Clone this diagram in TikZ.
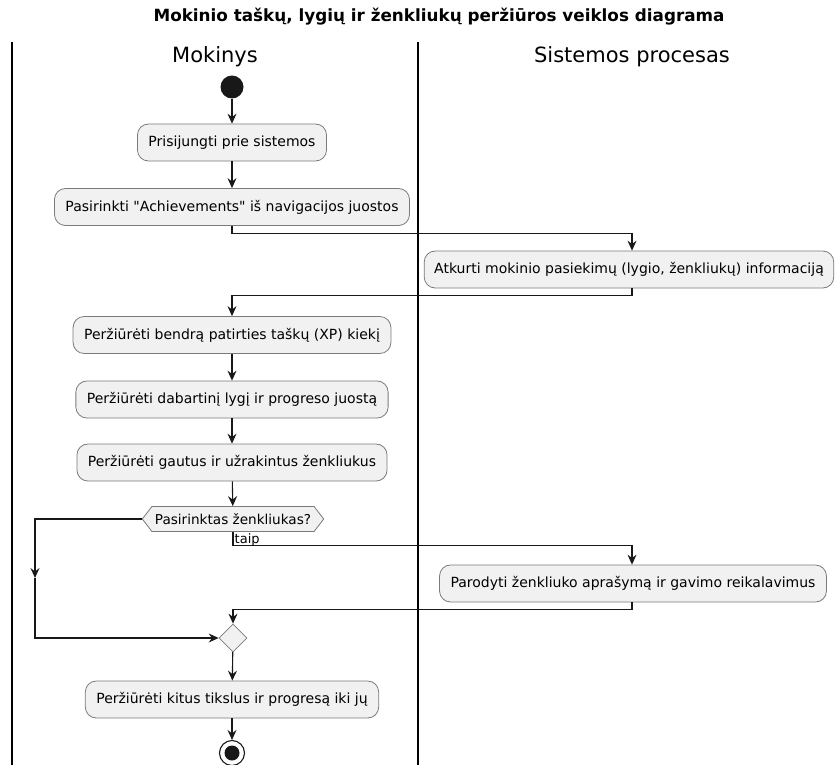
\documentclass[tikz,border=0pt]{standalone}
\usepackage{fontspec}
\setmainfont{DejaVu Sans}[Ligatures=TeXReset]
\usetikzlibrary{arrows.meta,shapes.geometric,shapes.symbols}
\definecolor{boxfill}{HTML}{F1F1F1}
\definecolor{boxline}{HTML}{7A7A7A}
\definecolor{ink}{HTML}{181818}
\tikzset{
  actbox/.style={draw=boxline, line width=0.8pt, fill=boxfill, rounded corners=11pt,
    minimum height=37pt, inner xsep=11pt, font=\fontsize{14}{16}\selectfont},
  decide/.style={draw=boxline, line width=0.8pt, fill=boxfill, shape=signal,
    signal to=west and east, signal pointer angle=105, minimum height=25pt,
    inner xsep=3pt, font=\fontsize{13.6}{16}\selectfont},
  merger/.style={draw=boxline, line width=0.8pt, fill=boxfill, shape=diamond,
    minimum width=28pt, minimum height=28pt, inner sep=0pt},
  flow/.style={draw=ink, line width=1.1pt, -{Stealth[length=10pt,width=9pt,inset=3.5pt]}},
  lane/.style={draw=black, line width=1.5pt},
  lanehead/.style={font=\fontsize{21}{24}\selectfont},
}
\begin{document}
\begin{tikzpicture}[x=1pt,y=-1pt]
  \useasboundingbox (0,0) rectangle (835,765);
  \fill[white] (0,0) rectangle (835,765);

  % title and swimlanes
  \node[font=\bfseries\fontsize{16.8}{19}\selectfont] (title) at (439,17)
    {Mokinio taškų, lygių ir ženkliukų peržiūros veiklos diagrama};
  \draw[lane] (12,42) -- (12,765);
  \draw[lane] (418,42) -- (418,765);
  \node[lanehead] (laneA) at (215,57) {Mokinys};
  \node[lanehead] (laneB) at (632,57) {Sistemos procesas};

  % activities
  \node[circle, fill=ink, minimum size=23pt, inner sep=0pt] (start) at (232,87) {};
  \node[actbox] (login) at (232,142.5) {Prisijungti prie sistemos};
  \node[actbox] (pick) at (232,207) {Pasirinkti "Achievements" iš navigacijos juostos};
  \node[actbox, inner xsep=10pt] (fetch) at (629,269.5) {Atkurti mokinio pasiekimų (lygio, ženkliukų) informaciją};
  \node[actbox] (xp) at (232,335) {Peržiūrėti bendrą patirties taškų (XP) kiekį};
  \node[actbox] (level) at (232,399.5) {Peržiūrėti dabartinį lygį ir progreso juostą};
  \node[actbox] (badges) at (232,462.5) {Peržiūrėti gautus ir užrakintus ženkliukus};
  \node[decide] (chosen) at (233,519) {Pasirinktas ženkliukas?};
  \node[actbox] (show) at (633,583.5) {Parodyti ženkliuko aprašymą ir gavimo reikalavimus};
  \node[merger] (merge) at (233,638) {};
  \node[actbox] (goals) at (232,699.5) {Peržiūrėti kitus tikslus ir progresą iki jų};
  \node[circle, draw=ink, line width=1.1pt, fill=white, minimum size=25pt, inner sep=0pt] (stop) at (232,753) {};
  \node[circle, fill=ink, minimum size=15pt, inner sep=0pt] (stopdot) at (stop.center) {};

  % connectors
  \draw[flow] (start) -- (login);
  \draw[flow] (login) -- (pick);
  \draw[flow] (pick.south) -- ++(0,8) -| ([xshift=3pt]fetch.north);
  \draw[flow] ([xshift=3pt]fetch.south) -- ++(0,7) -| (xp.north);
  \draw[flow] (xp) -- (level);
  \draw[flow] (level) -- (badges);
  \draw[flow] (badges) -- (chosen);

  \coordinate (skip) at (35,578);
  \draw[flow] (chosen.west) -| (skip);
  \draw[flow] (skip) |- (merge.west);

  \draw[flow] (chosen.south) -- ++(0,14) -| ([xshift=-1pt]show.north);
  \node[anchor=south west, inner sep=1pt, font=\fontsize{13}{15}\selectfont] (yes) at (233.5,547) {taip};
  \draw[flow] ([xshift=-1pt]show.south) -- ++(0,7) -| (merge.north);
  \draw[flow] (merge) -- (goals);
  \draw[flow] (goals) -- (stop);
\end{tikzpicture}
\end{document}
